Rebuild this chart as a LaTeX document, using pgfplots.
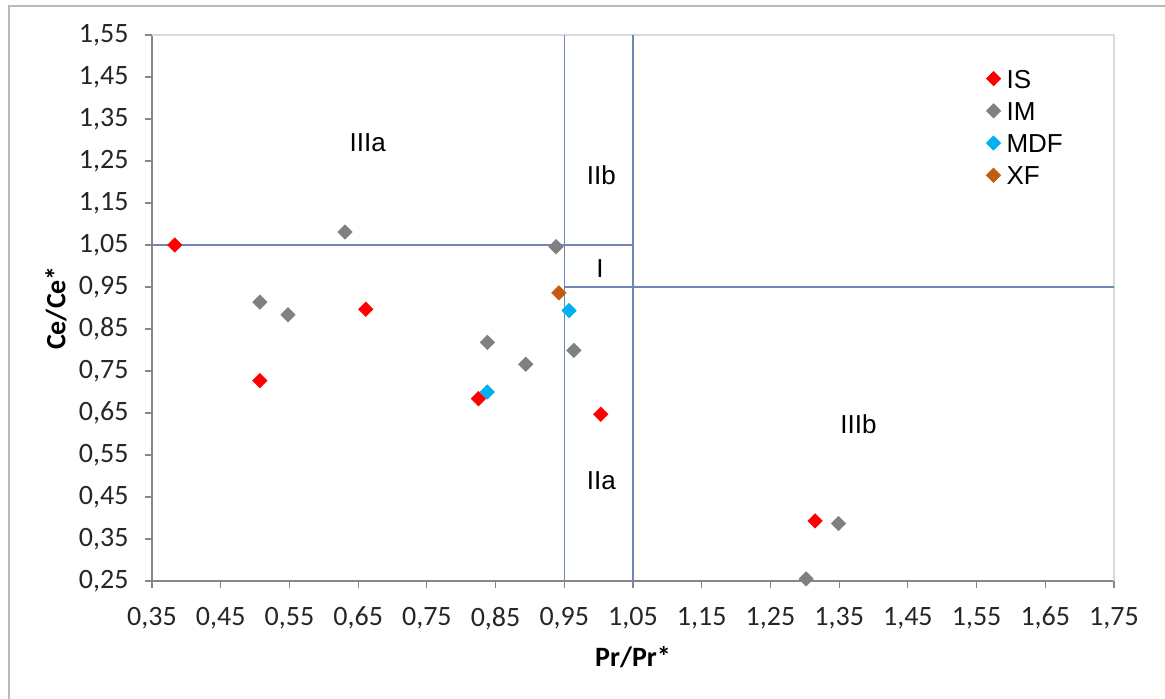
\documentclass[border=0pt]{standalone}
\usepackage{pgfplots}
\pgfplotsset{compat=1.18}
\usepackage{fontspec}
\setmainfont{Carlito}
\newfontfamily\legfont{Liberation Sans}
\definecolor{isred}{RGB}{255,0,0}
\definecolor{imgrey}{RGB}{128,128,128}
\definecolor{mdfcyan}{RGB}{0,176,240}
\definecolor{xforange}{RGB}{197,90,17}
\definecolor{refline}{RGB}{112,134,184}
\definecolor{axgrey}{RGB}{134,134,134}
\definecolor{bordergrey}{RGB}{217,217,217}
\definecolor{framegrey}{RGB}{185,185,185}
\begin{document}
\begin{tikzpicture}
\useasboundingbox (0,0) rectangle (582.5pt,-349.5pt);
\draw[framegrey, line width=0.6pt] (4.5pt,-349.5pt) -- (4.5pt,-3pt) -- (582.5pt,-3pt);
\begin{axis}[
  at={(76pt,-290.5pt)}, anchor=south west,
  scale only axis, width=481pt, height=273pt,
  xmin=0.35, xmax=1.75, ymin=0.25, ymax=1.55,
  axis lines=left,
  axis line style={-, draw=axgrey, line width=0.6pt},
  xtick={0.35,0.45,0.55,0.65,0.75,0.85,0.95,1.05,1.15,1.25,1.35,1.45,1.55,1.65,1.75},
  ytick={0.25,0.35,0.45,0.55,0.65,0.75,0.85,0.95,1.05,1.15,1.25,1.35,1.45,1.55},
  tick align=outside, major tick length=3.5pt,
  tick style={draw=axgrey, line width=0.6pt},
  /pgf/number format/.cd, use comma, fixed, fixed zerofill, precision=2, assume math mode=true,
  /pgfplots/.cd,
  ticklabel style={font=\fontsize{14}{16}\selectfont, text=black!85},
  xticklabel style={yshift=-6pt},
  yticklabel style={xshift=-4.7pt},
  xlabel={Pr/Pr*}, ylabel={Ce/Ce*},
  every axis x label/.style={at={(axis description cs:0.5,0)}, anchor=center, yshift=-38pt, font=\fontsize{14}{16}\selectfont\bfseries},
  every axis y label/.style={at={(axis description cs:0,0.5)}, anchor=center, xshift=-48pt, rotate=90, font=\fontsize{14}{16}\selectfont\bfseries},
  clip=false,
  legend cell align=left,
  legend image code/.code={\path[draw=none,fill=none] (0pt,0pt) -- (10pt,0pt); \draw[#1] plot coordinates {(3.5pt,0pt)};},
  legend style={at={(rel axis cs:0.867,0.938)}, anchor=north west, draw=none, fill=none, inner sep=0pt,
    font=\legfont\fontsize{13}{15}\selectfont, row sep=6.7pt,
    nodes={inner sep=0pt, text height=9.4pt, text depth=0pt}},
]
\draw[bordergrey, line width=0.6pt] (rel axis cs:0,1) -- (rel axis cs:1,1) -- (rel axis cs:1,0);
\addplot[refline, line width=0.75pt, forget plot] coordinates {(0.35,1.05) (1.05,1.05)};
\addplot[refline, line width=0.75pt, forget plot] coordinates {(0.95,0.95) (1.75,0.95)};
\addplot[refline, line width=0.75pt, forget plot] coordinates {(0.95,0.25) (0.95,1.55)};
\addplot[refline, line width=0.75pt, forget plot] coordinates {(1.05,0.25) (1.05,1.55)};

\addplot[only marks, mark=square*, mark size=2.5pt, mark options={rotate=45, draw=isred, fill=isred}]
  coordinates {(0.383,1.05) (0.507,0.727) (0.661,0.897) (0.825,0.684) (1.003,0.647) (1.315,0.393)};
\addlegendentry{IS}
\addplot[only marks, mark=square*, mark size=2.5pt, mark options={rotate=45, draw=imgrey, fill=imgrey}]
  coordinates {(0.631,1.081) (0.507,0.914) (0.548,0.884) (0.838,0.818) (0.894,0.766) (0.938,1.046) (0.964,0.799) (1.349,0.387) (1.302,0.255)};
\addlegendentry{IM}
\addplot[only marks, mark=square*, mark size=2.5pt, mark options={rotate=45, draw=mdfcyan, fill=mdfcyan}]
  coordinates {(0.838,0.700) (0.957,0.894)};
\addlegendentry{MDF}
\addplot[only marks, mark=square*, mark size=2.5pt, mark options={rotate=45, draw=xforange, fill=xforange}]
  coordinates {(0.942,0.936)};
\addlegendentry{XF}

\node[font=\legfont\fontsize{13}{15}\selectfont] at (axis cs:0.664,1.294) {IIIa};
\node[font=\legfont\fontsize{13}{15}\selectfont] at (axis cs:1.004,1.215) {IIb};
\node[font=\legfont\fontsize{13}{15}\selectfont] at (axis cs:1.002,0.993) {I};
\node[font=\legfont\fontsize{13}{15}\selectfont] at (axis cs:1.004,0.490) {IIa};
\node[font=\legfont\fontsize{13}{15}\selectfont] at (axis cs:1.378,0.624) {IIIb};
\end{axis}
\end{tikzpicture}
\end{document}
